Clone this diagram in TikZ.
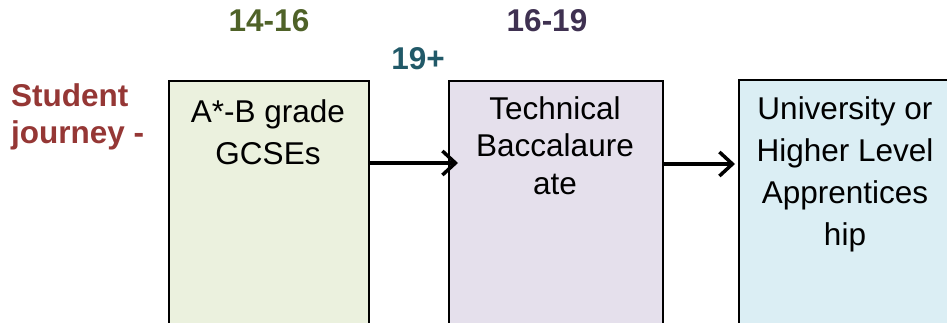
\documentclass[tikz,border=0pt]{standalone}
\usepackage{fontspec}
\setmainfont{Liberation Sans}
\usepackage{tikz}
\usepackage{xcolor}
\usetikzlibrary{arrows.meta}

\definecolor{agegreen}{HTML}{4F6228}
\definecolor{agepurple}{HTML}{3F3151}
\definecolor{ageteal}{HTML}{215968}
\definecolor{journeyred}{HTML}{953735}
\definecolor{gcsefill}{HTML}{EBF1DE}
\definecolor{baccfill}{HTML}{E5E0EC}
\definecolor{unifill}{HTML}{DBEEF4}

\begin{document}
\begin{tikzpicture}[x=1pt, y=1pt,
    stage/.style={rectangle, draw=black, line width=2pt, minimum height=260pt, anchor=north west, inner sep=0pt},
    stagetext/.style={anchor=north, align=center, inner sep=0pt, font=\fontsize{31.5}{42}\selectfont},
    age/.style={anchor=base, inner sep=0pt, font=\bfseries\fontsize{31.5}{38}\selectfont},
    flow/.style={line width=3.5pt, -{Straight Barb[length=13pt, width=24pt, line width=3.5pt]}}]
            \clip (0, 0) rectangle (947, -323);

            % age labels
            \node[age, text=agegreen] (age1416) at (269, -32) {14-16};
            \node[age, text=agepurple] (age1619) at (547, -32) {16-19};
            \node[age, text=ageteal] (age19) at (418, -70) {19+};
            \node[anchor=north west, align=left, inner sep=0pt, text=journeyred, font=\bfseries\fontsize{31.5}{37}\selectfont] (journey) at (11, -83) {Student\\journey -};

            % stages
            \node[stage, fill=gcsefill, minimum width=200pt] (gcse) at (168, -80) {};
            \node[stage, fill=baccfill, minimum width=214pt] (bacc) at (448, -80) {};
            \node[stage, fill=unifill, minimum width=214pt] (uni) at (738, -79) {};

            \node[stagetext] (gcsetext) at (268, -99) {A*-B grade\\GCSEs};
            \node[stagetext, font=\fontsize{31.5}{37.5}\selectfont] (bacctext) at (555, -96) {Technical\\Baccalaure\\ate};
            \node[stagetext] (unitext) at (845, -96) {University or\\Higher Level\\Apprentices\\hip};

            \draw[flow] ([yshift=-83pt]gcse.north east) -- ([xshift=10pt, yshift=-83pt]bacc.north west);
            \draw[flow] ([yshift=-84pt]bacc.north east) -- ([xshift=-3pt, yshift=-85pt]uni.north west);
        \end{tikzpicture}
\end{document}
